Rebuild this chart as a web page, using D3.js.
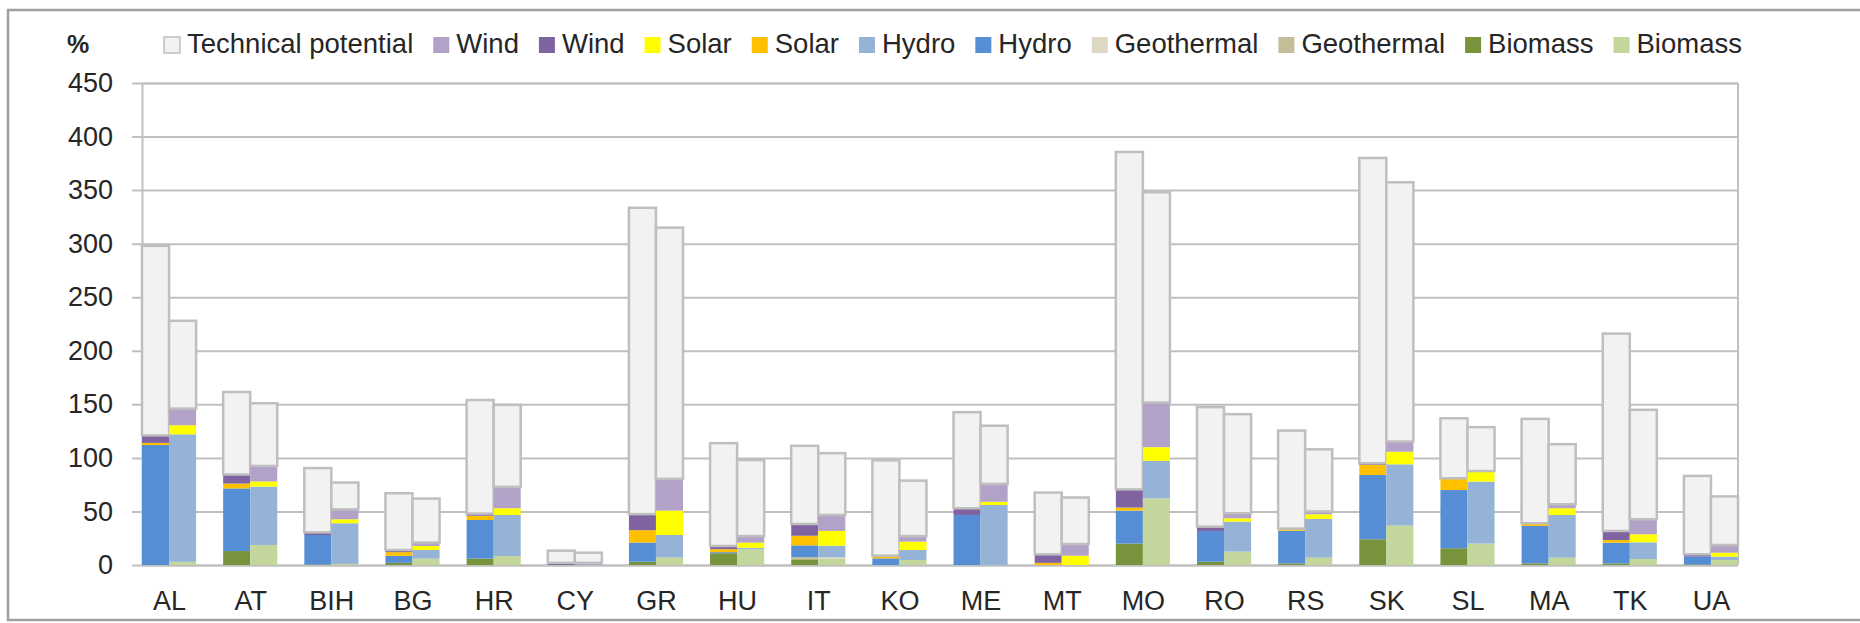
<!DOCTYPE html>
<html>
<head>
<meta charset="utf-8">
<script src="https://cdn.jsdelivr.net/npm/d3@7/dist/d3.min.js"></script>
<style>
  body { margin: 0; background: #fff; }
  text { font-family: "Liberation Sans", Arial, sans-serif; fill: #262626; }
</style>
</head>
<body>
<div id="chart"></div>
<script>
// countries along the x axis
const countries = ['AL', 'AT', 'BIH', 'BG', 'HR', 'CY', 'GR', 'HU', 'IT', 'KO',
  'ME', 'MT', 'MO', 'RO', 'RS', 'SK', 'SL', 'MA', 'TK', 'UA'];

// first bar of each pair (dark shades), stacked segments in %
const biomassA    = [0, 13, 0.5, 2, 6, 0, 3, 11, 5.3, 0, 0, 0, 20, 3, 1.5, 24, 15.6, 1.5, 1.5, 0.5];
const geothermalA = [0, 0, 0, 0, 0, 0, 0, 0, 2, 0, 0, 0, 0, 0, 0, 0, 0, 0, 0, 0];
const hydroA      = [112, 58.5, 27.5, 6.5, 36, 0, 18, 1, 11, 6.2, 46.7, 0, 30.8, 28.8, 30.5, 60, 54.4, 35, 19.3, 7.3];
const solarA      = [2, 4.5, 0, 3.5, 4, 0, 11.5, 2.8, 9, 2, 0, 2, 2.8, 0, 2, 9.5, 11, 2.5, 2.5, 0];
const windA       = [7, 8.5, 2.5, 2, 2, 2, 15, 3, 11, 0.5, 6.3, 8, 17, 4, 0, 1.5, 0, 0, 8.5, 2.2];
const technicalA  = [177, 77, 60, 53, 106, 11.4, 286, 96, 73, 89, 89.7, 57.6, 315, 111.6, 91.5, 285, 56, 97.4, 184.2, 73.2];

// second bar of each pair (light shades)
const biomassB    = [3, 18.7, 1, 6, 8.4, 0, 7, 14.6, 5.6, 4.7, 0, 0, 62.3, 12.5, 6.9, 36.8, 20, 6.9, 5.6, 4.7];
const geothermalB = [0, 0, 0, 0, 0, 0, 0, 0, 1.6, 0, 0, 0, 0, 0, 0, 0, 0, 0, 0, 0];
const hydroB      = [119, 54.5, 38, 8, 38.3, 0, 21, 1.4, 10.8, 9.3, 56, 0, 34.9, 28, 36.1, 57.2, 57.9, 39.8, 15.6, 3.1];
const solarB      = [8.5, 4.8, 3.7, 3.7, 6.3, 0, 22.8, 4.9, 13.8, 7.8, 3, 8.7, 12.8, 3.1, 4.4, 11.8, 9.3, 6.3, 7.5, 3.7];
const windB       = [15.5, 14.5, 9.3, 3.3, 20, 2, 29.6, 6.1, 14.9, 5.2, 16.7, 10.9, 41.7, 4.7, 2.6, 9.5, 0.5, 3.7, 14, 7.2];
const technicalB  = [82, 58.5, 25, 41, 76.5, 9.5, 234.6, 71, 57.7, 51.8, 54.3, 43.4, 196.3, 92.5, 58, 242, 41, 56.1, 102.2, 45.3];

const yTicks = [0, 50, 100, 150, 200, 250, 300, 350, 400, 450];

const keys = ['biomass', 'geothermal', 'hydro', 'solar', 'wind', 'technical'];
const colorsA = { biomass: '#77933c', geothermal: '#c4bd97', hydro: '#558ed5', solar: '#ffc000', wind: '#8064a2', technical: '#f2f2f2' };
const colorsB = { biomass: '#c3d69b', geothermal: '#ddd9c4', hydro: '#95b3d7', solar: '#ffff00', wind: '#b3a2c7', technical: '#f2f2f2' };
const edge = '#bfbfbf';

const width = 1860, height = 623;
const plotLeft = 142, plotRight = 1738, plotTop = 83, plotBottom = 565;

const svg = d3.select('#chart').append('svg')
  .attr('width', width)
  .attr('height', height);

// outer frame
svg.append('rect')
  .attr('x', 8).attr('y', 10)
  .attr('width', 1880).attr('height', 610)
  .attr('fill', 'none')
  .attr('stroke', '#a0a0a0')
  .attr('stroke-width', 2.5);

// 59 slots: two bars per country and an empty slot between countries
const x = d3.scaleBand()
  .domain(d3.range(59))
  .range([plotLeft, plotRight])
  .padding(0);

const y = d3.scaleLinear()
  .domain([0, 450])
  .range([plotBottom, plotTop]);

const xLabel = d3.scalePoint()
  .domain(countries)
  .range([x(0) + x.bandwidth(), x(57) + x.bandwidth()]);

// y axis with gridlines
const yAxis = d3.axisLeft(y)
  .tickValues(yTicks)
  .tickSize(-(plotRight - plotLeft))
  .tickPadding(29);

const gy = svg.append('g')
  .attr('transform', `translate(${plotLeft},0)`)
  .call(yAxis);
gy.select('.domain').attr('stroke', edge).attr('stroke-width', 2);
gy.selectAll('.tick line')
  .attr('x1', -10)
  .attr('stroke', edge)
  .attr('stroke-width', 2);
gy.selectAll('.tick text')
  .style('font-size', '27px');

// right border of the plot
svg.append('line')
  .attr('x1', plotRight).attr('x2', plotRight)
  .attr('y1', plotTop).attr('y2', plotBottom)
  .attr('stroke', edge)
  .attr('stroke-width', 2);

const rowsA = countries.map((c, i) => ({ country: c, biomass: biomassA[i], geothermal: geothermalA[i], hydro: hydroA[i], solar: solarA[i], wind: windA[i], technical: technicalA[i] }));
const rowsB = countries.map((c, i) => ({ country: c, biomass: biomassB[i], geothermal: geothermalB[i], hydro: hydroB[i], solar: solarB[i], wind: windB[i], technical: technicalB[i] }));

const stack = d3.stack().keys(keys);

function drawBars(rows, colors, offset) {
  const layers = stack(rows);
  svg.append('g')
    .selectAll('g')
    .data(layers)
    .enter()
    .append('g')
    .attr('fill', d => colors[d.key])
    .each(function (layer) {
      const isTech = layer.key === 'technical';
      d3.select(this).selectAll('rect')
        .data(layer.filter(d => d[1] - d[0] > 0))
        .enter()
        .append('rect')
        .attr('x', d => x(3 * countries.indexOf(d.data.country) + offset))
        .attr('width', x.bandwidth())
        .attr('y', d => y(d[1]))
        .attr('height', d => y(d[0]) - y(d[1]))
        .attr('stroke', isTech ? edge : 'none')
        .attr('stroke-width', isTech ? 2.5 : 0);
    });
}
drawBars(rowsA, colorsA, 0);
drawBars(rowsB, colorsB, 1);

// x axis labels
const gx = svg.append('g')
  .attr('transform', `translate(0,${plotBottom})`)
  .call(d3.axisBottom(xLabel).tickSize(0).tickPadding(26));
gx.select('.domain').remove();
gx.selectAll('.tick text').style('font-size', '27px');

// unit
svg.append('text')
  .attr('x', 67).attr('y', 53)
  .style('font-size', '25px')
  .style('font-weight', 'bold')
  .text('%');

// legend
const legendItems = [
  { label: 'Technical potential', color: colorsA.technical, stroke: edge },
  { label: 'Wind', color: colorsB.wind },
  { label: 'Wind', color: colorsA.wind },
  { label: 'Solar', color: colorsB.solar },
  { label: 'Solar', color: colorsA.solar },
  { label: 'Hydro', color: colorsB.hydro },
  { label: 'Hydro', color: colorsA.hydro },
  { label: 'Geothermal', color: colorsB.geothermal },
  { label: 'Geothermal', color: colorsA.geothermal },
  { label: 'Biomass', color: colorsA.biomass },
  { label: 'Biomass', color: colorsB.biomass }
];

const legend = svg.append('g');
let lx = 164;
legendItems.forEach(item => {
  legend.append('rect')
    .attr('x', lx).attr('y', 37)
    .attr('width', 16).attr('height', 16)
    .attr('fill', item.color)
    .attr('stroke', item.stroke || 'none')
    .attr('stroke-width', 1.5);
  const t = legend.append('text')
    .attr('x', lx + 23).attr('y', 53)
    .style('font-size', '27.5px')
    .text(item.label);
  lx += 23 + t.node().getComputedTextLength() + 20;
});
</script>
</body>
</html>
